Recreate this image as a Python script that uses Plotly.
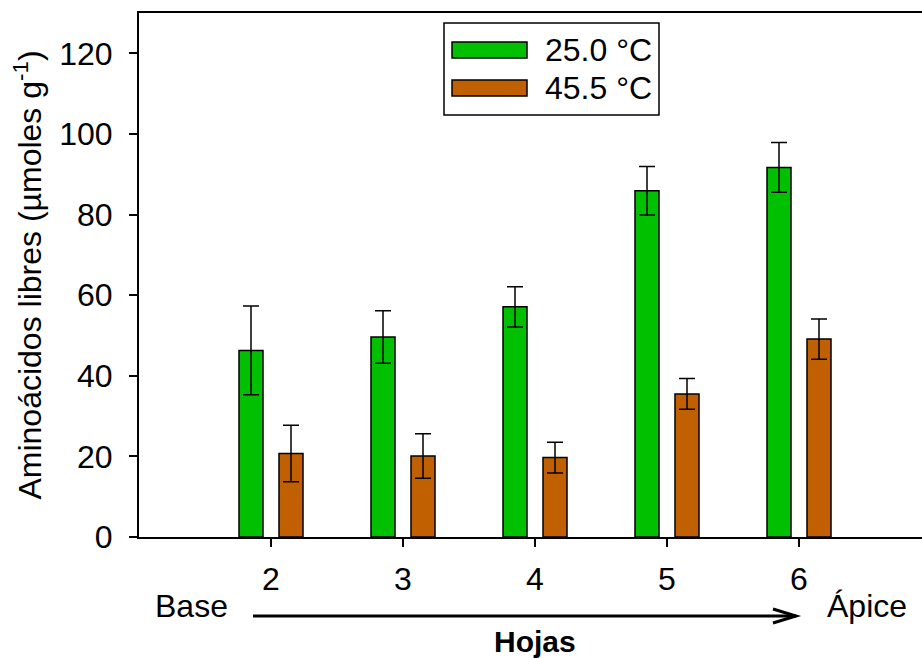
import plotly.graph_objects as go

# Leaf position (2 = near base, 6 = near apex)
hojas = [2, 3, 4, 5, 6]

# Free amino acids (µmoles g-1) and their error bars
t25_mean = [46.3, 49.6, 57.1, 85.9, 91.7]
t25_err = [11.0, 6.5, 5.0, 6.0, 6.2]
t45_mean = [20.7, 20.1, 19.7, 35.5, 49.1]
t45_err = [7.0, 5.5, 3.8, 3.8, 5.0]

series_names = ["25.0 °C", "45.5 °C"]
series_colors = ["#00C000", "#C06000"]

FONT = "Liberation Sans, Arial, sans-serif"
FS = 32
W, H = 922, 658
L, T, B = 139, 13, 121
plot_w = W - L
plot_h = H - T - B


def px_to_paper(px, py):
    return (px - L) / plot_w, (H - B - py) / plot_h


fig = go.Figure()
for name, color, mean, err in zip(series_names, series_colors,
                                  [t25_mean, t45_mean], [t25_err, t45_err]):
    fig.add_trace(go.Bar(
        x=hojas, y=mean, name=name,
        marker=dict(color=color, line=dict(color="black", width=1.5)),
        error_y=dict(type="data", array=err, visible=True,
                     color="black", thickness=1.5, width=8),
        showlegend=False,
    ))

# x range: one category = 132 px
x_end = 1 + plot_w / 132

fig.update_layout(
    width=W, height=H,
    margin=dict(l=L, r=0, t=T, b=B, pad=0),
    paper_bgcolor="white", plot_bgcolor="white",
    barmode="group", bargap=0.394, bargroupgap=0.4,
    font=dict(family=FONT, size=FS, color="black"),
    xaxis=dict(
        range=[1, x_end], tickmode="array", tickvals=hojas,
        ticktext=[str(h) for h in hojas],
        showline=True, linecolor="black", linewidth=2, mirror=True,
        ticks="outside", ticklen=8, tickwidth=1.5, tickcolor="black",
        ticklabelstandoff=5,
        showgrid=False, zeroline=False,
        tickfont=dict(size=FS),
    ),
    yaxis=dict(
        range=[0, 130], tickvals=[0, 20, 40, 60, 80, 100, 120],
        showline=True, linecolor="black", linewidth=2,
        ticks="outside", ticklen=8, tickwidth=1.5, tickcolor="black",
        ticklabelstandoff=10,
        showgrid=False, zeroline=False,
        tickfont=dict(size=FS),
        title=dict(text="Aminoácidos libres (µmoles g<sup>-1</sup>)",
                   font=dict(size=FS), standoff=8),
    ),
)

annotations = []
shapes = []

# Base / Ápice labels
for txt, cx in [("Base", 191), ("Ápice", 867)]:
    xp, yp = px_to_paper(cx, 606)
    annotations.append(dict(text=txt, x=xp, y=yp, xref="paper", yref="paper",
                            xanchor="center", yanchor="middle", showarrow=False,
                            font=dict(size=FS)))

# Axis title
xp, yp = px_to_paper(535, 660)
annotations.append(dict(text="<b>Hojas</b>", x=xp, y=yp, xref="paper", yref="paper",
                        xanchor="center", yanchor="bottom", showarrow=False,
                        font=dict(size=30)))

# Arrow from base to apex
ax0, ay = px_to_paper(253, 616)
ax1, _ = px_to_paper(796, 616)
shapes.append(dict(type="line", xref="paper", yref="paper", x0=ax0, x1=ax1,
                   y0=ay, y1=ay, line=dict(color="black", width=3)))
hx, hy_up = px_to_paper(773, 609)
_, hy_dn = px_to_paper(773, 623)
shapes.append(dict(type="path", xref="paper", yref="paper",
                   path=f"M {hx},{hy_up} L {ax1},{ay} L {hx},{hy_dn}",
                   line=dict(color="black", width=3)))

# Legend box
bx0, by1 = px_to_paper(444, 23)
bx1, by0 = px_to_paper(659, 115)
shapes.append(dict(type="rect", xref="paper", yref="paper", x0=bx0, x1=bx1,
                   y0=by0, y1=by1, line=dict(color="black", width=1.5),
                   fillcolor="white"))
for i, (name, color) in enumerate(zip(series_names, series_colors)):
    top = 42 + i * 38
    sx0, sy1 = px_to_paper(452, top)
    sx1, sy0 = px_to_paper(527, top + 16)
    shapes.append(dict(type="rect", xref="paper", yref="paper", x0=sx0, x1=sx1,
                       y0=sy0, y1=sy1, fillcolor=color,
                       line=dict(color="black", width=1.5)))
    tx, ty = px_to_paper(543, top + 8)
    annotations.append(dict(text=name, x=tx, y=ty, xref="paper", yref="paper",
                            xanchor="left", yanchor="middle", showarrow=False,
                            font=dict(size=FS)))

fig.update_layout(annotations=annotations, shapes=shapes)
fig.write_html("out.html")
